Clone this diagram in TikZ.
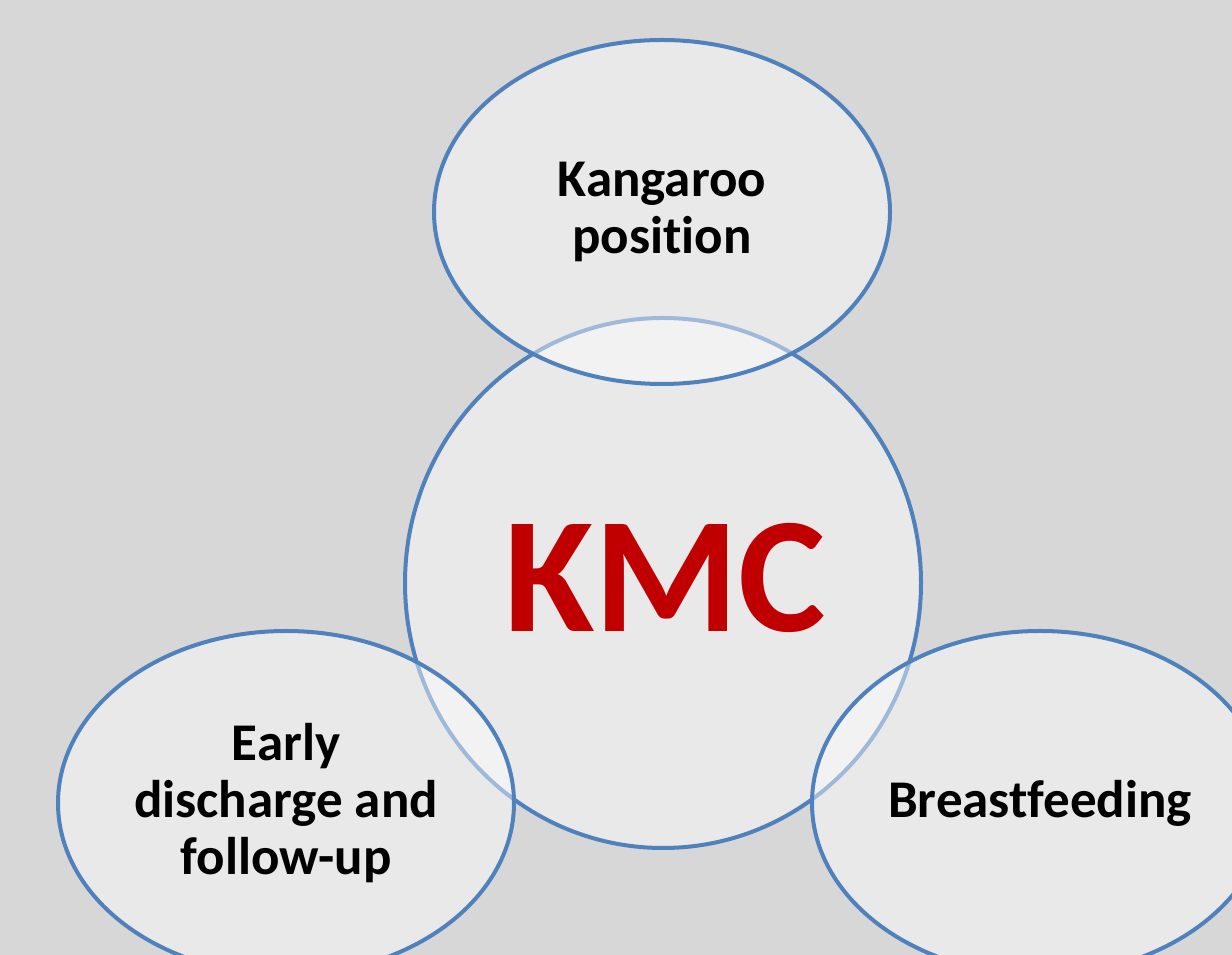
\documentclass[tikz,border=0pt]{standalone}
\usepackage{fontspec}
\setmainfont{Carlito}[Ligatures=NoCommon]
\usepackage{tikz}
\usetikzlibrary{shapes.geometric}

\definecolor{kmcblue}{RGB}{79,129,189}
\definecolor{kmcred}{RGB}{192,0,0}
\definecolor{kmcback}{RGB}{215,215,215}

\begin{document}
\begin{tikzpicture}[x=1pt,y=1pt,
  bubble/.style={ellipse,draw=kmcblue,line width=4pt,fill=white,fill opacity=0.45,text opacity=1,inner sep=0pt,outer sep=0pt,align=center,font=\bfseries\fontsize{53}{57}\selectfont},
  part/.style={bubble,minimum width=456,minimum height=344},
  core/.style={bubble,minimum width=516,minimum height=530}]
      \tikzstyle{every node}=[text=black]

     \useasboundingbox (0,0) rectangle (1232,955);
     \clip (0,0) rectangle (1232,955);
     \fill[kmcback] (0,0) rectangle (1232,955);

     \node [core] (kmc) at (663,372){};
     \node [text=kmcred,font=\bfseries\fontsize{165}{165}\selectfont] (kmclabel) at (665,377){KMC};

     \node [part] (kangaroo) at (662,743){Kangaroo\\position};
     \node [part] (discharge) at (286,152){Early\\discharge and\\follow-up};
     \node [part] (breastfeeding) at (1040,152){Breastfeeding};

  \end{tikzpicture}
\end{document}
